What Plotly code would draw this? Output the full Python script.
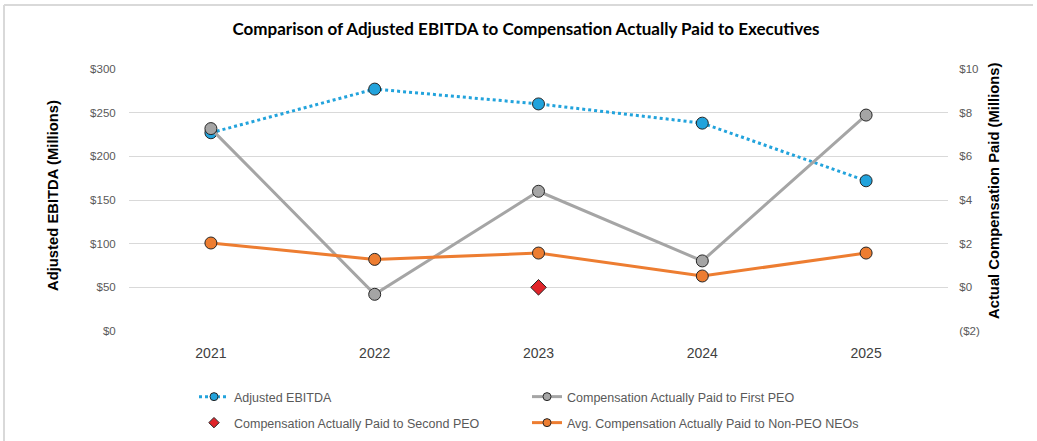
import plotly.graph_objects as go

years = ["2021", "2022", "2023", "2024", "2025"]
ebitda = [227, 277, 260, 238, 172]
first_peo = [7.27, -0.32, 4.40, 1.21, 7.89]
second_peo_years = ["2023"]
second_peo = [0.0]
non_peo = [2.03, 1.28, 1.57, 0.52, 1.57]

left_ticks = [0, 50, 100, 150, 200, 250, 300]
left_text = ["$0", "$50", "$100", "$150", "$200", "$250", "$300"]
right_ticks = [-2, 0, 2, 4, 6, 8, 10]
right_text = ["($2)", "$0", "$2", "$4", "$6", "$8", "$10"]

names = ["Adjusted EBITDA", "Compensation Actually Paid to First PEO",
         "Compensation Actually Paid to Second PEO",
         "Avg. Compensation Actually Paid to Non-PEO NEOs"]
BLUE, GRAY, RED, ORANGE = "#22A3DC", "#A5A5A5", "#E0242A", "#ED7D31"

outline = dict(color="#262626", width=1)

fig = go.Figure()
fig.add_trace(go.Scatter(
    x=years, y=ebitda, name=names[0], mode="lines+markers",
    line=dict(color=BLUE, width=3, dash="dot"),
    marker=dict(size=12, color=BLUE, line=outline),
    yaxis="y", showlegend=False))
fig.add_trace(go.Scatter(
    x=years, y=first_peo, name=names[1], mode="lines+markers",
    line=dict(color=GRAY, width=3),
    marker=dict(size=12, color=GRAY, line=outline),
    yaxis="y2", showlegend=False))
fig.add_trace(go.Scatter(
    x=second_peo_years, y=second_peo, name=names[2], mode="markers",
    marker=dict(size=12, symbol="diamond", color=RED, line=outline),
    yaxis="y2", showlegend=False))
fig.add_trace(go.Scatter(
    x=years, y=non_peo, name=names[3], mode="lines+markers",
    line=dict(color=ORANGE, width=3),
    marker=dict(size=12, color=ORANGE, line=outline),
    yaxis="y2", showlegend=False))

# legend-only entries with smaller symbols (as in the reference legend)
leg_specs = [
    (names[0], "lines+markers", dict(color=BLUE, width=3, dash="dot"), "circle", BLUE, "legend"),
    (names[1], "lines+markers", dict(color=GRAY, width=3), "circle", GRAY, "legend"),
    (names[2], "markers", None, "diamond", RED, "legend2"),
    (names[3], "lines+markers", dict(color=ORANGE, width=3), "circle", ORANGE, "legend2"),
]
for nm, md, ln, sym, col, lg in leg_specs:
    kw = dict(x=[None], y=[None], name=nm, mode=md,
              marker=dict(size=8, symbol=sym, color=col, line=outline),
              legend=lg, showlegend=True, hoverinfo="skip")
    if ln:
        kw["line"] = ln
    fig.add_trace(go.Scatter(**kw))

W, H = 1037, 441
ml, mr, mt, mb = 129, 89, 69, 110
pw, ph = W - ml - mr, H - mt - mb

legend_common = dict(
    orientation="h", xanchor="left", yanchor="middle",
    font=dict(family="Liberation Sans, Arial", size=12.5, color="#595959"),
    entrywidth=288, entrywidthmode="pixels", bgcolor="rgba(0,0,0,0)",
    itemwidth=30,
)

def px_x(p):
    return (p - ml) / pw

def px_y(p):
    return (mt + ph - p) / ph

axis_title_font = dict(family="Liberation Sans, Arial", size=14.8, color="#000000")

fig.update_layout(
    width=W, height=H,
    margin=dict(l=ml, r=mr, t=mt, b=mb, autoexpand=False),
    paper_bgcolor="white", plot_bgcolor="white",
    title=dict(text="<b>Comparison of Adjusted EBITDA to Compensation Actually Paid to Executives</b>",
               x=526 / W, xanchor="center", y=1 - 29 / H, yanchor="middle",
               font=dict(family="Lato, Open Sans", size=17, color="#000000")),
    xaxis=dict(type="category", showgrid=False, zeroline=False, showline=False,
               automargin=False,
               tickfont=dict(family="Liberation Sans, Arial", size=14, color="#404040"),
               ticks="outside", ticklen=9, tickcolor="rgba(0,0,0,0)",
               range=[-0.5, 4.5]),
    yaxis=dict(range=[0, 300], tickvals=left_ticks, ticktext=left_text,
               automargin=False,
               showgrid=True, gridcolor="#D9D9D9", gridwidth=1, zeroline=False,
               showline=False,
               tickfont=dict(family="Liberation Sans, Arial", size=11.5, color="#595959"),
               ticks="outside", ticklen=10, tickcolor="rgba(0,0,0,0)"),
    yaxis2=dict(range=[-2, 10], tickvals=right_ticks, ticktext=right_text,
                automargin=False,
                overlaying="y", side="right", showgrid=False, zeroline=False,
                showline=False,
                tickfont=dict(family="Liberation Sans, Arial", size=11.5, color="#595959"),
                ticks="outside", ticklen=8, tickcolor="rgba(0,0,0,0)"),
    legend=dict(x=px_x(194), y=px_y(397), **legend_common),
    legend2=dict(x=px_x(194), y=px_y(423), **legend_common),
    annotations=[
        dict(text="<b>Adjusted EBITDA (Millions)</b>", textangle=-90,
             xref="paper", yref="paper", x=px_x(53), y=px_y(196),
             xanchor="center", yanchor="middle", showarrow=False,
             font=axis_title_font),
        dict(text="<b>Actual Compensation Paid (Millions)</b>", textangle=-90,
             xref="paper", yref="paper", x=px_x(994), y=px_y(191),
             xanchor="center", yanchor="middle", showarrow=False,
             font=axis_title_font),
    ],
    shapes=[
        dict(type="line", xref="paper", yref="paper",
             x0=px_x(4), x1=px_x(4), y0=px_y(H), y1=px_y(5),
             line=dict(color="#D9D9D9", width=2), layer="above"),
        dict(type="line", xref="paper", yref="paper",
             x0=px_x(4), x1=px_x(1033), y0=px_y(5), y1=px_y(5),
             line=dict(color="#D9D9D9", width=2), layer="above"),
    ],
)

fig.write_html("out.html", config={"displayModeBar": False},
               post_script="document.body.style.margin='0';")
